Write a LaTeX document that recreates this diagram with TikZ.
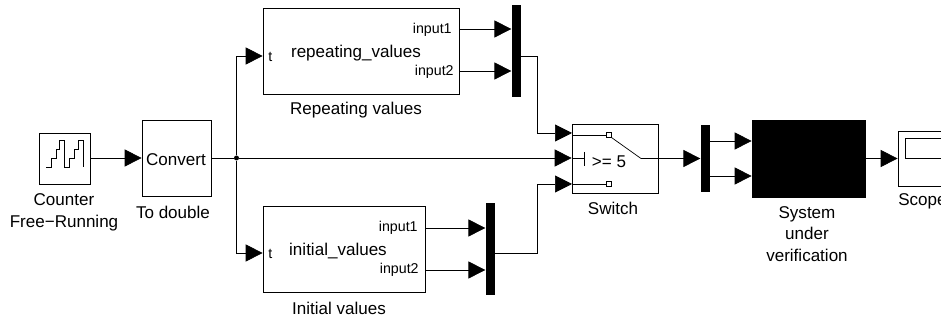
\documentclass[tikz,border=0pt]{standalone}
\usepackage{fontspec}
\setmainfont{Liberation Sans}
\usetikzlibrary{arrows.meta, calc}

\begin{document}
\begin{tikzpicture}[x=0.02cm, y=-0.02cm, font=\fontsize{9.7}{12.4}\selectfont, >={Triangle[length=0.34cm, width=0.34cm]},
    block/.style={draw, line width=0.4pt, inner sep=0pt},
    mux/.style={fill=black, inner sep=0pt, minimum width=0.19cm},
    wire/.style={line width=0.4pt},
    icon/.style={line width=0.4pt, line join=miter},
    port/.style={draw, fill=white, line width=0.4pt, inner sep=0pt, minimum size=0.09cm},
    caption/.style={align=center, inner sep=0pt},
    pin/.style={inner sep=0pt, font=\fontsize{8.1}{10}\selectfont}]
  \useasboundingbox (0,0) rectangle (941,320);

  % Source
  \node[block, minimum width=1.02cm, minimum height=1.02cm] (counter) at (64.5,158.5) {};
  \draw[icon] (46,167)--(51,167)--(51,158)--(56,158)--(56,149)--(59,149)--(59,140)--(64,140)--(64,167)
    --(69,167)--(69,158)--(74,158)--(74,149)--(78,149)--(78,140)--(83,140)--(83,167);
  \node[caption] (counterlabel) at (64,212) {Counter\\Free\textminus Running};
  \node[block, minimum width=1.38cm, minimum height=1.52cm] (convert) at (176.5,158) {};
  \node[caption] (convertname) at (176,160) {Convert};
  \node[caption] (convertlabel) at (173,212) {To double};
  \draw[->, wire] (counter.east |- convert)--(convert.west);

  % Repeating values
  \node[block, minimum width=3.92cm, minimum height=1.72cm] (rep) at (361,51) {};
  \node[caption] (repname) at (356,53) {repeating\_values};
  \node[pin, anchor=west] (rept) at (268,57) {t};
  \node[pin, anchor=east] (rep1) at (452,30) {input1};
  \node[pin, anchor=east] (rep2) at (454,72) {input2};
  \node[caption] (replabel) at (356,110) {Repeating values};
  \node[mux, minimum height=1.84cm] (repmux) at (516.5,51) {};
  \coordinate (repin1) at (459,29);
  \coordinate (repin2) at (459,71);
  \coordinate (repout) at (521,56);
  \draw[->, wire] (repin1)--(repin1 -| repmux.west);
  \draw[->, wire] (repin2)--(repin2 -| repmux.west);

  % Initial values
  \node[block, minimum width=3.24cm, minimum height=1.72cm] (ini) at (344,249) {};
  \node[caption] (ininame) at (338,251) {initial\_values};
  \node[pin, anchor=west] (init) at (268,254) {t};
  \node[pin, anchor=east] (ini1) at (418,228) {input1};
  \node[pin, anchor=east] (ini2) at (419,270) {input2};
  \node[caption] (inilabel) at (339,308) {Initial values};
  \node[mux, minimum height=1.84cm] (inimux) at (490.5,249) {};
  \coordinate (iniin1) at (425,228);
  \coordinate (iniin2) at (425,270);
  \coordinate (iniout) at (495,253);
  \draw[->, wire] (iniin1)--(iniin1 -| inimux.west);
  \draw[->, wire] (iniin2)--(iniin2 -| inimux.west);

  % Switch
  \node[block, minimum width=1.72cm, minimum height=1.38cm] (switch) at (615,158.5) {};
  \node[caption] (switchlabel) at (613,208) {Switch};
  \node[caption] (switchcond) at (609,162) {>= 5};
  \node[port] (swa) at (609,135) {};
  \node[port] (swb) at (609,184) {};
  \coordinate (swin1) at (572,133);
  \coordinate (swin3) at (572,184);
  \coordinate (swhinge) at (641,158.5);
  \draw[icon] (swin1 |- swa)--(swa.west);
  \draw[icon] (swin3)--(swb.west);
  \draw[icon] (swa.south east)--(swhinge)--(switch.east);
  \draw[icon] (572,158.5)--(584,158.5) (584,152)--(584,166);

  % Time signal and its branches
  \node[circle, fill=black, inner sep=0pt, minimum size=0.1cm] (junc) at (236.5,158) {};
  \draw[wire] (convert.east)--(junc);
  \draw[->, wire] (junc)--(junc -| switch.west);
  \draw[->, wire] (junc) |- (rep.west |- repout);
  \draw[->, wire] (junc) |- (ini.west |- iniout);
  \draw[->, wire] (repout)-|(537,133)--(swin1);
  \draw[->, wire] (iniout)-|(537,184)--(swin3);

  % System and scope
  \node[mux, minimum height=1.34cm] (sysmux) at (705.5,158.5) {};
  \node[block, fill=black, minimum width=2.26cm, minimum height=1.54cm] (sys) at (808.5,158.5) {};
  \node[caption] (syslabel) at (807,234) {System\\under\\verification};
  \draw[->, wire] (switch.east)--(sysmux.west);
  \coordinate (sysin1) at (710,141);
  \coordinate (sysin2) at (710,176);
  \draw[->, wire] (sysin1)--(sysin1 -| sys.west);
  \draw[->, wire] (sysin2)--(sysin2 -| sys.west);
  \node[block, minimum width=1.24cm, minimum height=1.10cm] (scope) at (929,158.5) {};
  \node[block, minimum width=0.90cm, minimum height=0.40cm] (screen) at (927.5,148) {};
  \node[caption, anchor=west] (scopelabel) at (898,201) {Scope};
  \draw[->, wire] (sys.east)--(scope.west);
\end{tikzpicture}
\end{document}
